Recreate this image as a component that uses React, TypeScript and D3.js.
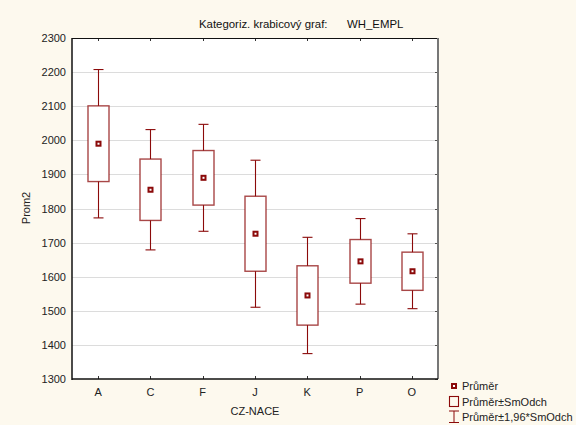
import React, { useEffect, useRef } from 'react';
import * as d3 from 'd3';

// category means and standard deviations
const categories = ['A', 'C', 'F', 'J', 'K', 'P', 'O'];
const means = [1990, 1855, 1890, 1726, 1545, 1645, 1616];
const sds = [111, 90, 80, 110, 87, 64, 56];
const yTicks = [1300, 1400, 1500, 1600, 1700, 1800, 1900, 2000, 2100, 2200, 2300];

const FONT = '"Liberation Sans", Arial, sans-serif';
const RED = '#8b0a0a';

const App = () => {
  const svgRef = useRef<SVGSVGElement>(null);
  const svgWidth = 576;
  const svgHeight = 425;
  const margin = { top: 38, right: 138, bottom: 46, left: 72 };
  const width = svgWidth - margin.left - margin.right;
  const height = svgHeight - margin.top - margin.bottom;

  useEffect(() => {
    const svg = d3.select(svgRef.current);
    svg.selectAll('*').remove();

    svg.append('rect').attr('width', svgWidth).attr('height', svgHeight).attr('fill', '#fdf9ee');

    const x = d3.scaleBand().domain(categories).range([0, width]).padding(0);
    const y = d3.scaleLinear().domain([1300, 2300]).range([height, 0]);

    const g = svg.append('g').attr('transform', `translate(${margin.left},${margin.top})`);
    g.append('rect').attr('width', width).attr('height', height).attr('fill', '#fff');

    // grid
    g.selectAll('line.grid')
      .data(yTicks.slice(1, -1))
      .enter().append('line')
      .attr('x1', 0).attr('x2', width)
      .attr('y1', d => Math.round(y(d)) + 0.5).attr('y2', d => Math.round(y(d)) + 0.5)
      .attr('stroke', '#dcdcdc').attr('stroke-width', 1.2);

    // y tick labels
    g.selectAll('text.ytick')
      .data(yTicks)
      .enter().append('text')
      .attr('x', -6).attr('y', d => y(d) + 4)
      .attr('text-anchor', 'end')
      .attr('font-family', FONT).attr('font-size', 11).attr('fill', '#222')
      .text(d => d);

    // right inner ticks
    g.selectAll('line.rtick')
      .data(yTicks)
      .enter().append('line')
      .attr('x1', width - 3).attr('x2', width)
      .attr('y1', d => Math.round(y(d)) + 0.5).attr('y2', d => Math.round(y(d)) + 0.5)
      .attr('stroke', '#555');

    // top and bottom inner ticks
    g.selectAll('line.ttick')
      .data(categories)
      .enter().append('line')
      .attr('x1', d => Math.round(x(d) + x.bandwidth() / 2) + 0.5)
      .attr('x2', d => Math.round(x(d) + x.bandwidth() / 2) + 0.5)
      .attr('y1', 0).attr('y2', 3)
      .attr('stroke', '#333');
    g.selectAll('line.btick')
      .data(categories)
      .enter().append('line')
      .attr('x1', d => Math.round(x(d) + x.bandwidth() / 2) + 0.5)
      .attr('x2', d => Math.round(x(d) + x.bandwidth() / 2) + 0.5)
      .attr('y1', height - 3).attr('y2', height)
      .attr('stroke', '#333');

    // x tick labels
    g.selectAll('text.xtick')
      .data(categories)
      .enter().append('text')
      .attr('x', d => x(d) + x.bandwidth() / 2).attr('y', height + 17)
      .attr('text-anchor', 'middle')
      .attr('font-family', FONT).attr('font-size', 11).attr('fill', '#222')
      .text(d => d);

    // frame
    g.append('line').attr('x1', 0).attr('x2', width).attr('y1', 0.5).attr('y2', 0.5).attr('stroke', '#111');
    g.append('line').attr('x1', width).attr('x2', width).attr('y1', 0).attr('y2', height)
      .attr('stroke', '#777').attr('stroke-width', 2);
    g.append('line').attr('x1', 0).attr('x2', 0).attr('y1', 0).attr('y2', height + 1)
      .attr('stroke', '#111').attr('stroke-width', 1.5);
    g.append('line').attr('x1', 0).attr('x2', width).attr('y1', height).attr('y2', height)
      .attr('stroke', '#111').attr('stroke-width', 1.5);

    const data = categories.map((c, i) => ({ c, m: means[i], s: sds[i] }));
    const boxW = 21;
    const capW = 10;

    const groups = g.selectAll('g.box')
      .data(data)
      .enter().append('g')
      .attr('transform', d => `translate(${Math.round(x(d.c) + x.bandwidth() / 2) + 0.5},0)`);

    // whiskers (mean ± 1.96 sd)
    groups.append('line')
      .attr('x1', 0).attr('x2', 0)
      .attr('y1', d => y(d.m + 1.96 * d.s)).attr('y2', d => y(d.m - 1.96 * d.s))
      .attr('stroke', RED).attr('stroke-width', 1.1);
    groups.append('line')
      .attr('x1', -capW / 2).attr('x2', capW / 2)
      .attr('y1', d => y(d.m + 1.96 * d.s)).attr('y2', d => y(d.m + 1.96 * d.s))
      .attr('stroke', RED).attr('stroke-width', 1.1);
    groups.append('line')
      .attr('x1', -capW / 2).attr('x2', capW / 2)
      .attr('y1', d => y(d.m - 1.96 * d.s)).attr('y2', d => y(d.m - 1.96 * d.s))
      .attr('stroke', RED).attr('stroke-width', 1.1);

    // box (mean ± sd)
    groups.append('rect')
      .attr('x', -boxW / 2)
      .attr('y', d => y(d.m + d.s))
      .attr('width', boxW)
      .attr('height', d => y(d.m - d.s) - y(d.m + d.s))
      .attr('fill', '#fff')
      .attr('stroke', RED).attr('stroke-opacity', 0.75).attr('stroke-width', 1.4);

    // mean marker
    groups.append('rect')
      .attr('x', -2).attr('y', d => y(d.m) - 2)
      .attr('width', 4).attr('height', 4)
      .attr('fill', '#fff').attr('stroke', RED).attr('stroke-width', 2);

    // titles
    svg.append('text').attr('x', 199).attr('y', 27.5)
      .attr('font-family', FONT).attr('font-size', 11.4).attr('fill', '#111')
      .text('Kategoriz. krabicový graf:');
    svg.append('text').attr('x', 347).attr('y', 27.5)
      .attr('font-family', FONT).attr('font-size', 11.4).attr('fill', '#111')
      .text('WH_EMPL');
    svg.append('text')
      .attr('transform', 'translate(30,208) rotate(-90)')
      .attr('text-anchor', 'middle')
      .attr('font-family', FONT).attr('font-size', 11).attr('fill', '#222')
      .text('Prom2');
    svg.append('text').attr('x', margin.left + width / 2).attr('y', 415)
      .attr('text-anchor', 'middle')
      .attr('font-family', FONT).attr('font-size', 11).attr('fill', '#222')
      .text('CZ-NACE');

    // legend
    const lg = svg.append('g');
    lg.append('rect').attr('x', 452).attr('y', 384).attr('width', 4).attr('height', 4)
      .attr('fill', '#fff').attr('stroke', RED).attr('stroke-width', 2);
    lg.append('rect').attr('x', 449.5).attr('y', 396.5).attr('width', 9).attr('height', 10)
      .attr('fill', 'none').attr('stroke', RED).attr('stroke-width', 1.1);
    lg.append('line').attr('x1', 454).attr('x2', 454).attr('y1', 411).attr('y2', 422.5).attr('stroke', RED);
    lg.append('line').attr('x1', 449).attr('x2', 459).attr('y1', 411).attr('y2', 411).attr('stroke', RED);
    lg.append('line').attr('x1', 449).attr('x2', 459).attr('y1', 422.5).attr('y2', 422.5).attr('stroke', RED);
    const labels = ['Průměr', 'Průměr±SmOdch', 'Průměr±1,96*SmOdch'];
    lg.selectAll('text')
      .data(labels)
      .enter().append('text')
      .attr('x', 462).attr('y', (d, i) => 390 + i * 15.5)
      .attr('font-family', FONT).attr('font-size', 11).attr('fill', '#222')
      .text(d => d);
  }, [height, width, margin.left, margin.top]);

  return (
    <svg
      ref={svgRef}
      width={svgWidth}
      height={svgHeight}
      style={{ position: 'absolute', left: 0, top: 0, display: 'block' }}
    />
  );
};

export default App;
